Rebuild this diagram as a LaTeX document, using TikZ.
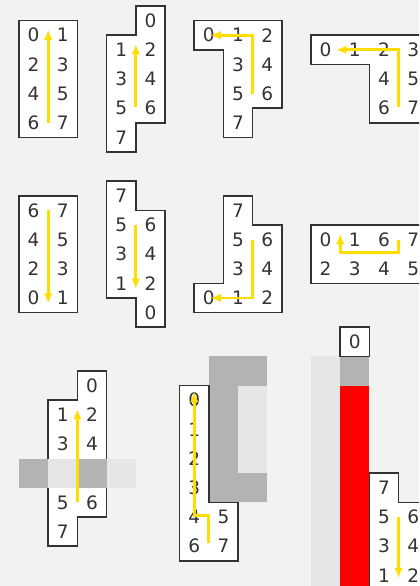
\documentclass[tikz,border=0pt]{standalone}
\usepackage{fontspec}
\setmainfont{DejaVu Sans}
\usetikzlibrary{arrows.meta}
\definecolor{paper}{HTML}{F2F2F1}
\definecolor{edge}{HTML}{333333}
\definecolor{gold}{HTML}{FFDD00}
\definecolor{darkcell}{HTML}{B3B3B3}
\definecolor{lightcell}{HTML}{E6E6E6}
\tikzset{
  piece/.style={draw=edge, fill=white, line width=1.7pt},
  num/.style={text=edge, font=\fontsize{18.5}{20}\selectfont, inner sep=0pt},
  route/.style={draw=gold, line width=2.9pt, -{Latex[length=10.5pt,width=8.5pt]}},
}
\begin{document}
\begin{tikzpicture}[x=29.2pt,y=-29.2pt]
\useasboundingbox (-0.651,-0.205) rectangle (13.699,19.863);
\fill[paper] (-0.651,-0.205) rectangle (13.699,19.863);
\clip (-0.651,-0.205) rectangle (13.699,19.863);

% first row
\draw[piece] (0,0.5) rectangle (2,4.5);
\foreach \n/\x/\y in {0/0.5/1,1/1.5/1,2/0.5/2,3/1.5/2,4/0.5/3,5/1.5/3,6/0.5/4,7/1.5/4}
  \node[num] (a\n) at (\x,\y) {\n};
\draw[route] (1,4.0) -- (1,0.8);

\draw[piece] (4,0) -- (5,0) -- (5,4) -- (4,4) -- (4,5) -- (3,5) -- (3,1) -- (4,1) -- cycle;
\foreach \n/\x/\y in {0/4.5/0.5,2/4.5/1.5,4/4.5/2.5,6/4.5/3.5,1/3.5/1.5,3/3.5/2.5,5/3.5/3.5,7/3.5/4.5}
  \node[num] (b\n) at (\x,\y) {\n};
\draw[route] (4,3.45) -- (4,1.3);

\draw[piece] (6,0.5) -- (9,0.5) -- (9,3.5) -- (8,3.5) -- (8,4.5) -- (7,4.5) -- (7,1.5) -- (6,1.5) -- cycle;
\foreach \n/\x/\y in {0/6.5/1,1/7.5/1,2/8.5/1,3/7.5/2,4/8.5/2,5/7.5/3,6/8.5/3,7/7.5/4}
  \node[num] (c\n) at (\x,\y) {\n};
\draw[route] (8,3.0) -- (8,1.0) -- (6.55,1.0);

\draw[piece] (10,1) -- (14,1) -- (14,4) -- (12,4) -- (12,2) -- (10,2) -- cycle;
\foreach \n/\x/\y in {0/10.5/1.5,1/11.5/1.5,2/12.5/1.5,3/13.5/1.5,4/12.5/2.5,5/13.5/2.5,6/12.5/3.5,7/13.5/3.5}
  \node[num] (d\n) at (\x,\y) {\n};
\draw[route] (13,3.45) -- (13,1.5) -- (10.85,1.5);

% second row
\draw[piece] (0,6.5) rectangle (2,10.5);
\foreach \n/\x/\y in {6/0.5/7,7/1.5/7,4/0.5/8,5/1.5/8,2/0.5/9,3/1.5/9,0/0.5/10,1/1.5/10}
  \node[num] (e\n) at (\x,\y) {\n};
\draw[route] (1,7.0) -- (1,10.2);

\draw[piece] (3,6) -- (4,6) -- (4,7) -- (5,7) -- (5,11) -- (4,11) -- (4,10) -- (3,10) -- cycle;
\foreach \n/\x/\y in {7/3.5/6.5,5/3.5/7.5,3/3.5/8.5,1/3.5/9.5,6/4.5/7.5,4/4.5/8.5,2/4.5/9.5,0/4.5/10.5}
  \node[num] (f\n) at (\x,\y) {\n};
\draw[route] (4,7.5) -- (4,9.7);

\draw[piece] (7,6.5) -- (8,6.5) -- (8,7.5) -- (9,7.5) -- (9,10.5) -- (6,10.5) -- (6,9.5) -- (7,9.5) -- cycle;
\foreach \n/\x/\y in {7/7.5/7,5/7.5/8,6/8.5/8,3/7.5/9,4/8.5/9,0/6.5/10,1/7.5/10,2/8.5/10}
  \node[num] (g\n) at (\x,\y) {\n};
\draw[route] (8,8.0) -- (8,10.0) -- (6.55,10.0);

\draw[piece] (10,7.5) rectangle (14,9.5);
\foreach \n/\x/\y in {0/10.5/8,1/11.5/8,6/12.5/8,7/13.5/8,2/10.5/9,3/11.5/9,4/12.5/9,5/13.5/9}
  \node[num] (h\n) at (\x,\y) {\n};
\draw[route] (13,8.0) -- (13,8.45) -- (11,8.45) -- (11,7.8);

% third row
\draw[piece] (2,12.5) -- (3,12.5) -- (3,17.5) -- (2,17.5) -- (2,18.5) -- (1,18.5) -- (1,13.5) -- (2,13.5) -- cycle;
\fill[darkcell] (0,15.5) rectangle (1,16.5);
\fill[lightcell] (1,15.5) rectangle (2,16.5);
\fill[darkcell] (2,15.5) rectangle (3,16.5);
\fill[lightcell] (3,15.5) rectangle (4,16.5);
\foreach \n/\x/\y in {0/2.5/13,1/1.5/14,2/2.5/14,3/1.5/15,4/2.5/15,5/1.5/17,6/2.5/17,7/1.5/18}
  \node[num] (i\n) at (\x,\y) {\n};
\draw[route] (2,17.0) -- (2,13.8);

\fill[darkcell] (6.5,12) rectangle (8.5,17);
\fill[lightcell] (7.5,13) rectangle (8.5,16);
\draw[piece] (5.5,13) -- (6.5,13) -- (6.5,17) -- (7.5,17) -- (7.5,19) -- (5.5,19) -- cycle;
\foreach \n/\x/\y in {0/6/13.5,1/6/14.5,2/6/15.5,3/6/16.5,4/6/17.5,5/7/17.5,6/6/18.5,7/7/18.5}
  \node[num] (j\n) at (\x,\y) {\n};
\draw[route] (6.5,18.4) -- (6.5,17.45) -- (6,17.45) -- (6,13.2);

\fill[lightcell] (10,12) rectangle (11,20);
\fill[darkcell] (11,12) rectangle (12,13);
\fill[red] (11,13) rectangle (12,20);
\draw[piece] (11,11) rectangle (12,12);
\node[num] (k0) at (11.5,11.5) {0};

\draw[piece] (12,16) -- (13,16) -- (13,17) -- (14,17) -- (14,20.5) -- (12,20.5) -- cycle;
\foreach \n/\x/\y in {7/12.5/16.5,5/12.5/17.5,6/13.5/17.5,3/12.5/18.5,4/13.5/18.5,1/12.5/19.5,2/13.5/19.5}
  \node[num] (l\n) at (\x,\y) {\n};
\draw[route] (13,17.5) -- (13,19.6);
\end{tikzpicture}
\end{document}
